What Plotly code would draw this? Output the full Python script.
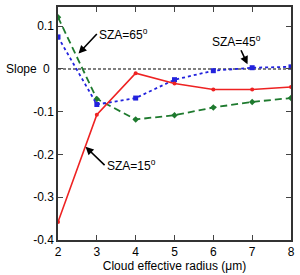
import plotly.graph_objects as go

radius = [2, 3, 4, 5, 6, 7, 8]
sza15 = [-0.358, -0.107, -0.010, -0.034, -0.048, -0.048, -0.042]
sza45 = [0.075, -0.083, -0.068, -0.025, -0.004, 0.003, 0.005]
sza65 = [0.121, -0.070, -0.118, -0.108, -0.090, -0.077, -0.068]
x_ticks = [2, 3, 4, 5, 6, 7, 8]
y_ticks = [0.1, 0, -0.1, -0.2, -0.3, -0.4]
y_tick_text = ["0.1", "", "-0.1", "-0.2", "-0.3", "-0.4"]

font = "Liberation Sans, Arial, sans-serif"
fig = go.Figure()
fig.add_trace(go.Scatter(x=[2, 8], y=[0, 0], mode="lines",
                         line=dict(color="black", width=1.2, dash="3px,2px"),
                         hoverinfo="skip", showlegend=False))
fig.add_trace(go.Scatter(x=radius, y=sza65, mode="lines+markers",
                         line=dict(color="#1e7a2e", width=1.8, dash="7px,4px"),
                         marker=dict(symbol="diamond", size=5, color="#1e7a2e"),
                         showlegend=False))
fig.add_trace(go.Scatter(x=radius, y=sza45, mode="lines+markers",
                         line=dict(color="#2222dd", width=1.8, dash="dot"),
                         marker=dict(symbol="square", size=5, color="#2222dd"),
                         showlegend=False))
fig.add_trace(go.Scatter(x=radius, y=sza15, mode="lines+markers",
                         line=dict(color="#ee2222", width=1.6),
                         marker=dict(symbol="circle", size=4, color="#ee2222"),
                         showlegend=False))

ann_font = dict(family=font, size=12, color="black")
arrow = dict(showarrow=True, arrowhead=2, arrowsize=1, arrowwidth=1.6,
             arrowcolor="black", standoff=0, startstandoff=0,
             xref="x", yref="y", axref="x", ayref="y", font=ann_font)
fig.add_annotation(x=2.53, y=0.036, ax=3.0, ay=0.082,
                   text="SZA=65<sup>o</sup>", xanchor="left", yanchor="middle", **arrow)
fig.add_annotation(x=6.88, y=0.011, ax=6.6, ay=0.066,
                   text="SZA=45<sup>o</sup>", xanchor="center", yanchor="middle", **arrow)
fig.add_annotation(x=2.71, y=-0.182, ax=3.2, ay=-0.225,
                   text="SZA=15<sup>o</sup>", xanchor="left", yanchor="middle", **arrow)
fig.add_annotation(x=0, y=0, xref="paper", yref="y", xshift=-54,
                   text="Slope", showarrow=False, xanchor="left",
                   font=dict(family=font, size=12, color="black"))
fig.add_annotation(x=0, y=0, xref="paper", yref="y", xshift=-6,
                   text="0", showarrow=False, xanchor="right",
                   font=dict(family=font, size=12, color="black"))

fig.update_layout(
    width=300, height=275,
    margin=dict(l=58, r=6, t=5, b=34),
    paper_bgcolor="white", plot_bgcolor="white",
    font=dict(family=font, size=12, color="black"),
    xaxis=dict(range=[2, 8], tickvals=x_ticks, ticks="inside", ticklen=5,
               mirror="ticks", showline=True, linecolor="#333", linewidth=1.5,
               showgrid=False, zeroline=False,
               title=dict(text="Cloud effective radius (μm)", standoff=2,
                          font=dict(size=12))),
    yaxis=dict(range=[-0.4, 0.145], tickvals=y_ticks, ticktext=y_tick_text,
               ticks="inside", ticklen=5,
               mirror="ticks", showline=True, linecolor="#333", linewidth=1.5,
               showgrid=False, zeroline=False),
)
fig.write_html("out.html")
